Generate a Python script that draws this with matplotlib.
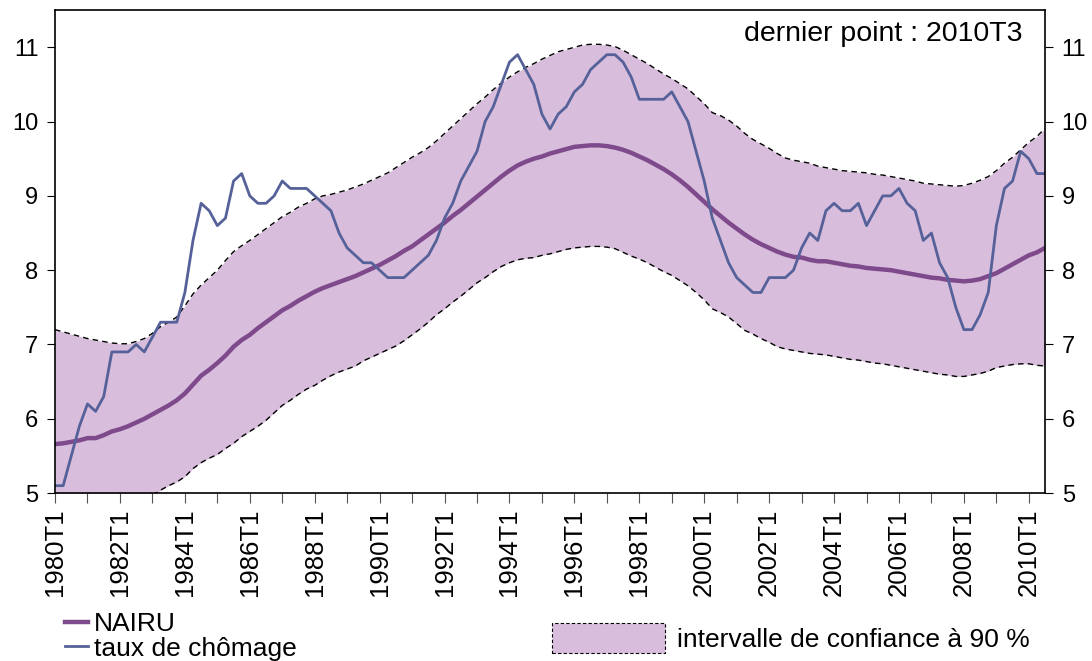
import matplotlib.pyplot as plt
from matplotlib.lines import Line2D
from matplotlib.patches import Patch
import numpy as np

plt.rcParams['font.family'] = ['Liberation Sans', 'DejaVu Sans']

# quarterly series, 1980T1 .. 2010T3
chomage = [5.1, 5.1, 5.5, 5.9, 6.2, 6.1, 6.3, 6.9, 6.9, 6.9, 7.0, 6.9, 7.1, 7.3, 7.3, 7.3,
           7.7, 8.4, 8.9, 8.8, 8.6, 8.7, 9.2, 9.3, 9.0, 8.9, 8.9, 9.0, 9.2, 9.1, 9.1, 9.1,
           9.0, 8.9, 8.8, 8.5, 8.3, 8.2, 8.1, 8.1, 8.0, 7.9, 7.9, 7.9, 8.0, 8.1, 8.2, 8.4,
           8.7, 8.9, 9.2, 9.4, 9.6, 10.0, 10.2, 10.5, 10.8, 10.9, 10.7, 10.5, 10.1, 9.9, 10.1, 10.2,
           10.4, 10.5, 10.7, 10.8, 10.9, 10.9, 10.8, 10.6, 10.3, 10.3, 10.3, 10.3, 10.4, 10.2, 10.0, 9.6,
           9.2, 8.7, 8.4, 8.1, 7.9, 7.8, 7.7, 7.7, 7.9, 7.9, 7.9, 8.0, 8.3, 8.5, 8.4, 8.8,
           8.9, 8.8, 8.8, 8.9, 8.6, 8.8, 9.0, 9.0, 9.1, 8.9, 8.8, 8.4, 8.5, 8.1, 7.9, 7.5,
           7.2, 7.2, 7.4, 7.7, 8.6, 9.1, 9.2, 9.6, 9.5, 9.3, 9.3]

nairu = [5.66, 5.67, 5.69, 5.71, 5.74, 5.74, 5.78, 5.83, 5.86, 5.90, 5.95, 6.00, 6.06, 6.12, 6.18, 6.25,
         6.34, 6.46, 6.58, 6.66, 6.75, 6.85, 6.97, 7.06, 7.13, 7.22, 7.30, 7.38, 7.46, 7.52, 7.59, 7.65,
         7.71, 7.76, 7.80, 7.84, 7.88, 7.92, 7.97, 8.02, 8.07, 8.13, 8.19, 8.26, 8.32, 8.40, 8.48, 8.56,
         8.64, 8.73, 8.81, 8.90, 8.99, 9.08, 9.17, 9.26, 9.34, 9.41, 9.46, 9.50, 9.53, 9.57, 9.60, 9.63,
         9.66, 9.67, 9.68, 9.68, 9.67, 9.65, 9.62, 9.58, 9.53, 9.48, 9.42, 9.36, 9.29, 9.21, 9.12, 9.02,
         8.92, 8.82, 8.73, 8.64, 8.56, 8.48, 8.41, 8.35, 8.30, 8.25, 8.21, 8.18, 8.17, 8.14, 8.12, 8.12,
         8.10, 8.08, 8.06, 8.05, 8.03, 8.02, 8.01, 8.00, 7.98, 7.96, 7.94, 7.92, 7.90, 7.89, 7.87, 7.86,
         7.85, 7.86, 7.88, 7.92, 7.96, 8.02, 8.08, 8.14, 8.20, 8.24, 8.30]

borne_haute = [7.20, 7.17, 7.14, 7.11, 7.08, 7.06, 7.04, 7.02, 7.01, 7.01, 7.04, 7.08, 7.15, 7.24, 7.30, 7.37,
               7.52, 7.68, 7.80, 7.90, 8.00, 8.13, 8.25, 8.33, 8.40, 8.48, 8.56, 8.64, 8.72, 8.78, 8.85, 8.90,
               8.96, 9.00, 9.02, 9.05, 9.08, 9.12, 9.16, 9.21, 9.26, 9.31, 9.38, 9.45, 9.52, 9.58, 9.65, 9.74,
               9.84, 9.94, 10.04, 10.14, 10.24, 10.33, 10.43, 10.52, 10.60, 10.67, 10.73, 10.78, 10.84, 10.89, 10.94, 10.97,
               11.00, 11.03, 11.04, 11.04, 11.03, 11.01, 10.96, 10.90, 10.84, 10.78, 10.71, 10.64, 10.58, 10.51, 10.44, 10.34,
               10.24, 10.12, 10.08, 10.02, 9.94, 9.84, 9.76, 9.70, 9.64, 9.57, 9.51, 9.48, 9.46, 9.44, 9.40, 9.38,
               9.36, 9.34, 9.33, 9.32, 9.31, 9.29, 9.28, 9.26, 9.24, 9.22, 9.20, 9.17, 9.16, 9.15, 9.14, 9.13,
               9.14, 9.17, 9.21, 9.26, 9.34, 9.44, 9.52, 9.62, 9.72, 9.80, 9.91]

borne_basse = [4.12, 4.18, 4.24, 4.30, 4.38, 4.44, 4.52, 4.60, 4.68, 4.76, 4.83, 4.90, 4.97, 5.04, 5.10, 5.15,
               5.22, 5.33, 5.41, 5.47, 5.52, 5.60, 5.67, 5.76, 5.83, 5.90, 5.98, 6.08, 6.18, 6.25, 6.33, 6.40,
               6.45, 6.52, 6.58, 6.63, 6.67, 6.71, 6.78, 6.83, 6.88, 6.93, 6.98, 7.05, 7.13, 7.21, 7.30, 7.40,
               7.48, 7.57, 7.65, 7.74, 7.83, 7.90, 7.98, 8.05, 8.10, 8.14, 8.16, 8.17, 8.20, 8.22, 8.25, 8.28,
               8.30, 8.31, 8.32, 8.32, 8.31, 8.29, 8.24, 8.19, 8.15, 8.10, 8.04, 7.98, 7.93, 7.86, 7.79, 7.70,
               7.60, 7.48, 7.43, 7.37, 7.28, 7.19, 7.14, 7.08, 7.03, 6.97, 6.94, 6.92, 6.90, 6.88, 6.87, 6.86,
               6.84, 6.82, 6.80, 6.79, 6.77, 6.75, 6.74, 6.72, 6.70, 6.68, 6.66, 6.64, 6.62, 6.60, 6.59, 6.57,
               6.57, 6.59, 6.61, 6.64, 6.69, 6.71, 6.73, 6.74, 6.74, 6.72, 6.71]

trimestres = [f'{1980 + k // 4}T{k % 4 + 1}' for k in range(len(chomage))]

c_fill = '#d8bedc'
c_nairu = '#7e4a8c'
c_chom = '#56619a'

fig = plt.figure(figsize=(10.92, 6.61), dpi=100)
ax = fig.add_axes([0.0504, 0.254, 0.9066, 0.7307])

x = np.arange(len(chomage))
ax.fill_between(x, borne_basse, borne_haute, color=c_fill, lw=0)
ax.plot(x, borne_haute, color='black', lw=1.0, ls=(0, (4, 3)))
ax.plot(x, borne_basse, color='black', lw=1.0, ls=(0, (4, 3)))
ax.plot(x, nairu, color=c_nairu, lw=3.2, solid_capstyle='butt')
ax.plot(x, chomage, color=c_chom, lw=2.0)

ax.set_xlim(0, len(chomage) - 1)
ax.set_ylim(5, 11.5)
ax.set_yticks(range(5, 12))
ax.tick_params(axis='y', labelsize=17, direction='out', length=6, right=True, labelright=True, pad=6)

xt = list(range(0, len(chomage), 4))
ax.set_xticks(xt)
ax.set_xticklabels([trimestres[k] if k % 8 == 0 else '' for k in xt], rotation=90)
ax.tick_params(axis='x', labelsize=18.5, direction='out', length=7, color='#555555', pad=4)

for s in ax.spines.values():
    s.set_linewidth(1.2)

ax.text(0.977, 0.978, 'dernier point : 2010T3', transform=ax.transAxes,
        ha='right', va='top', fontsize=20.5)

h_lines = [Line2D([], [], color=c_nairu, lw=3.2, label='NAIRU'),
           Line2D([], [], color=c_chom, lw=2.0, label='taux de chômage')]
fig.legend(handles=h_lines, loc='upper left', bbox_to_anchor=(0.047, 0.094),
           frameon=False, fontsize=19, handlelength=0.9, handletextpad=0.2,
           labelspacing=0.02, borderpad=0)

h_band = [Patch(facecolor=c_fill, edgecolor='black', lw=0.8, ls=(0, (3, 2)),
                label='intervalle de confiance à 90 %')]
fig.legend(handles=h_band, loc='center left', bbox_to_anchor=(0.493, 0.035),
           frameon=False, fontsize=19, handlelength=4.3, handleheight=1.35,
           handletextpad=0.45, borderpad=0)

fig.savefig('out.png', dpi=100)
